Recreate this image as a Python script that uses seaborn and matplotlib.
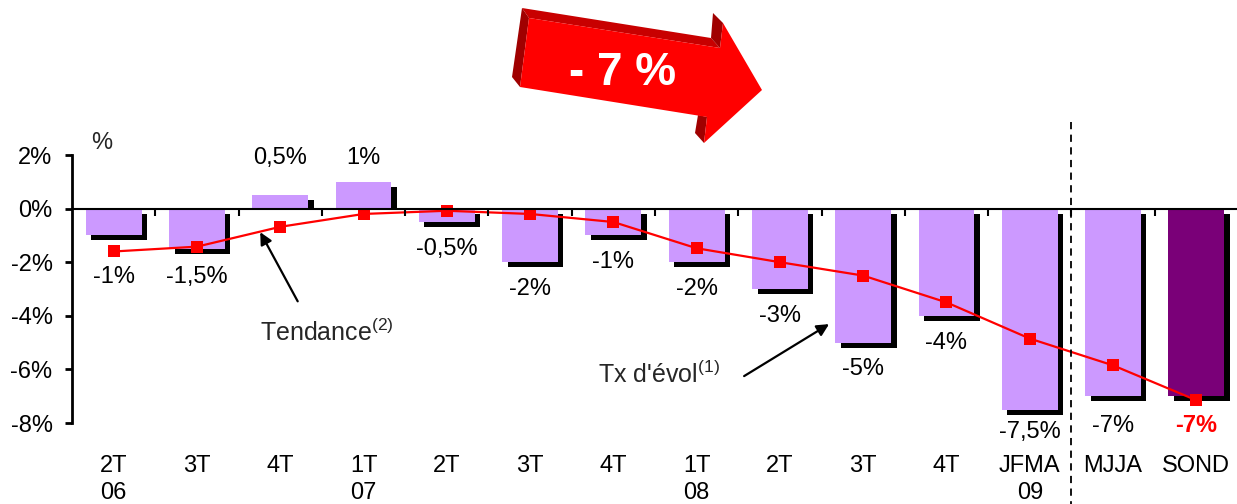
import numpy as np
import pandas as pd
import matplotlib
matplotlib.use("Agg")
import matplotlib.pyplot as plt
import matplotlib.transforms as mtransforms
from matplotlib.patches import Polygon
import seaborn as sns

# ---- data ----
periods = ["2T06", "3T06", "4T06", "1T07", "2T07", "3T07", "4T07",
           "1T08", "2T08", "3T08", "4T08", "JFMA09", "MJJA09", "SOND09"]
tick_labels = ["2T\n06", "3T", "4T", "1T\n07", "2T", "3T", "4T",
               "1T\n08", "2T", "3T", "4T", "JFMA\n09", "MJJA", "SOND"]
evolution = [-1, -1.5, 0.5, 1, -0.5, -2, -1, -2, -3, -5, -4, -7.5, -7, -7]
value_labels = ["-1%", "-1,5%", "0,5%", "1%", "-0,5%", "-2%", "-1%",
                "-2%", "-3%", "-5%", "-4%", "-7,5%", "-7%", "-7%"]
tendance = [-1.6, -1.42, -0.68, -0.2, -0.08, -0.2, -0.5,
            -1.48, -2.0, -2.5, -3.5, -4.85, -5.85, -7.15]
yticks = [2, 0, -2, -4, -6, -8]
ytick_labels = ["2%", "0%", "-2%", "-4%", "-6%", "-8%"]
headline = "- 7 %"

# ---- style ----
light = "#CC99FF"
dark = "#7A0078"
bar_colors = [light] * 13 + [dark]
label_offsets = [-1.54, -1.04, None, None, -1.0, -1.0, -1.0,
                 -1.0, -1.0, -1.0, -1.0, -0.83, -1.1, -1.1]
W, H = 1237, 504

sns.set_theme(style="white")
plt.rcParams["font.family"] = ["Liberation Sans", "DejaVu Sans"]
plt.rcParams["mathtext.fontset"] = "custom"
plt.rcParams["mathtext.rm"] = "Liberation Sans"

fig = plt.figure(figsize=(W / 100, H / 100), dpi=100)
ax = fig.add_axes([72 / W, 81 / H, 1166 / W, 268 / H])

df = pd.DataFrame({"period": periods, "evol": evolution})

# shadow bars
n0 = len(ax.patches)
sns.barplot(data=df, x="period", y="evol", color="black", width=0.67,
            saturation=1, ax=ax, zorder=1)
shadow_off = mtransforms.ScaledTranslation(5.5 / 100, -5 / 100, fig.dpi_scale_trans)
above_zero = mtransforms.TransformedBbox(
    mtransforms.Bbox([[-1, 0], [20, 20]]), ax.transData)
for p, v in zip(ax.patches[n0:], evolution):
    p.set_transform(ax.transData + shadow_off)
    p.set_edgecolor("none")
    if v > 0:
        p.set_clip_box(above_zero)
        p.set_clip_on(True)
    else:
        p.set_clip_on(False)
# main bars
n1 = len(ax.patches)
sns.barplot(data=df, x="period", y="evol", hue="period",
            palette=dict(zip(periods, bar_colors)), legend=False,
            width=0.67, saturation=1, ax=ax, zorder=2)
for p in ax.patches[n1:]:
    p.set_edgecolor("none")

# trend line
sns.lineplot(x=np.arange(len(periods)), y=tendance, color="#FF0000", lw=1.6,
             marker="s", markersize=8.5, markeredgewidth=0, ax=ax, zorder=5,
             sort=False)

ax.set_xlim(-0.5, len(periods) - 0.5)
ax.set_ylim(-8, 2)

# axes styling
for s in ["top", "right", "bottom"]:
    ax.spines[s].set_visible(False)
ax.spines["left"].set_linewidth(2.0)
ax.spines["left"].set_color("black")
ax.set_yticks(yticks)
ax.set_yticklabels(ytick_labels)
ax.tick_params(axis="y", direction="out", length=5, width=2, pad=9,
               labelsize=17, colors="black", left=True)
ax.set_xticks(np.arange(len(periods)))
ax.set_xticklabels(tick_labels, fontsize=17, linespacing=1.3, va="top")
ax.tick_params(axis="x", length=0, pad=23, colors="black")
ax.set_xlabel("")
ax.set_ylabel("")

ax.axhline(0, color="black", lw=1.5, zorder=6)
bounds = np.arange(len(periods) - 1) + 0.5
ax.vlines(bounds, 0, -0.27, color="black", lw=1.5, zorder=6, clip_on=False)

# separator dashed line
ax.plot([11.5, 11.5], [3.25, -11.2], color="black", lw=1.3,
        ls=(0, (4, 3)), clip_on=False, zorder=7)

# value labels
for i, (v, lab) in enumerate(zip(evolution, value_labels)):
    if v >= 0:
        y = 1.9
    else:
        y = v + label_offsets[i]
    last = i == len(periods) - 1
    ax.text(i, y, lab, ha="center", va="center", fontsize=17,
            color="#FF0000" if last else "black",
            fontweight="bold" if last else "normal", zorder=8, clip_on=False)

ax.text(-0.14, 2.44, "%", ha="center", va="center", fontsize=17, clip_on=False)

# annotations
ax.annotate("", xy=(1.76, -0.88), xytext=(2.21, -3.46),
            arrowprops=dict(arrowstyle="-|>", color="black", lw=1.6,
                            mutation_scale=18, shrinkA=0, shrinkB=0),
            zorder=9, annotation_clip=False)
ax.text(1.76, -4.95, r"Tendance$^{(2)}$", ha="left", va="baseline",
        fontsize=18, zorder=9)
ax.annotate("", xy=(8.59, -4.31), xytext=(7.57, -6.25),
            arrowprops=dict(arrowstyle="-|>", color="black", lw=1.6,
                            mutation_scale=18, shrinkA=0, shrinkB=0),
            zorder=9, annotation_clip=False)
ax.text(5.82, -6.51, r"Tx d'évol$^{(1)}$", ha="left", va="baseline",
        fontsize=18, zorder=9)

# big 3D arrow (figure pixel coordinates)
def px(pts):
    return [(x / W, 1 - y / H) for x, y in pts]

faces = [
    ([(522, 8), (711, 38), (720, 48), (529, 18)], "#C80000"),
    ([(522, 8), (529, 18), (520, 87), (512, 77)], "#A00000"),
    ([(711, 38), (713, 13), (723, 23), (720, 48)], "#A00000"),
    ([(698, 115), (707, 117), (704, 143), (695, 133)], "#A00000"),
    ([(529, 18), (720, 48), (723, 23), (762, 90), (704, 143), (707, 117),
      (520, 87)], "#FF0000"),
]
for pts, col in faces:
    fig.add_artist(Polygon(px(pts), closed=True, facecolor=col,
                           edgecolor="none", transform=fig.transFigure))
fig.text(623 / W, 1 - 73 / H, headline, ha="center", va="center",
         fontsize=33, fontweight="bold", color="white")

fig.savefig("out.png", dpi=100)
